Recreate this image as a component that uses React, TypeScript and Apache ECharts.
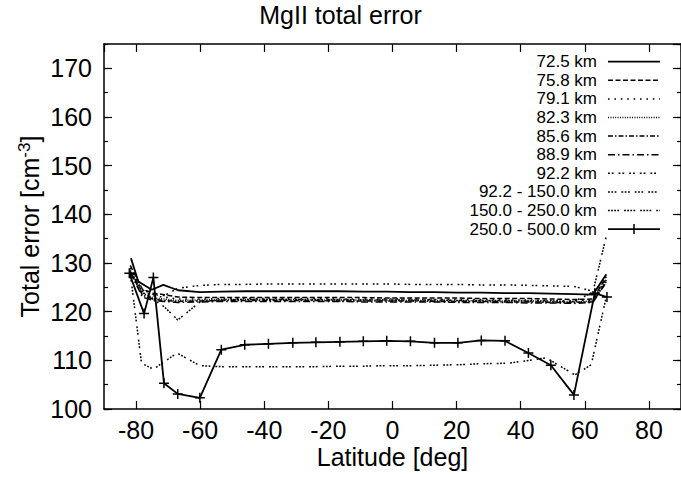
import React, { useEffect, useRef } from "react";
import * as echarts from "echarts";

// ---- data ----
const seriesNames = [
  "72.5 km",
  "75.8 km",
  "79.1 km",
  "82.3 km",
  "85.6 km",
  "88.9 km",
  "92.2 km",
  "92.2 - 150.0 km",
  "150.0 - 250.0 km",
  "250.0 - 500.0 km",
];

const lat725 = [-81.6, -79.3, -75.1, -71.5, -66.9, -60.0, -53.4, -46.1, -38.7, -31.3, -24.0, -16.6, -9.2, -1.8, 5.6, 13.0, 20.4, 27.7, 35.1, 42.4, 49.4, 56.6, 62.5, 66.7];
const val725 = [131.0, 126.2, 124.5, 125.5, 124.4, 124.0, 124.1, 124.2, 124.2, 124.2, 124.2, 124.2, 124.1, 124.1, 124.0, 124.0, 123.9, 123.9, 123.8, 123.8, 123.7, 123.6, 123.5, 127.7];

const latBulk = [-81.8, -78.0, -74.6, -71.2, -67.0, -60.0, -53.4, -46.1, -38.7, -31.3, -24.0, -16.6, -9.2, -1.8, 5.6, 13.0, 20.4, 27.7, 35.1, 42.4, 49.4, 56.6, 62.5, 66.7];
const val758 = [129.5, 124.6, 123.8, 123.5, 123.0, 122.9, 122.9, 122.9, 122.9, 122.9, 122.9, 122.9, 122.9, 122.8, 122.8, 122.8, 122.8, 122.7, 122.7, 122.7, 122.6, 122.5, 122.6, 127.2];
const val791 = [129.0, 124.2, 123.2, 123.0, 122.6, 122.6, 122.7, 122.7, 122.7, 122.7, 122.7, 122.6, 122.6, 122.6, 122.6, 122.5, 122.5, 122.5, 122.4, 122.4, 122.3, 122.2, 122.4, 126.8];
const val823 = [128.5, 123.8, 122.8, 122.6, 122.3, 122.4, 122.5, 122.5, 122.5, 122.5, 122.4, 122.4, 122.4, 122.4, 122.3, 122.3, 122.3, 122.2, 122.2, 122.2, 122.1, 122.0, 122.2, 126.5];
const val856 = [128.2, 123.4, 122.5, 122.3, 122.1, 122.2, 122.3, 122.3, 122.3, 122.3, 122.3, 122.2, 122.2, 122.2, 122.2, 122.1, 122.1, 122.1, 122.0, 122.0, 121.9, 121.9, 122.0, 126.2];
const val889 = [128.0, 123.0, 122.3, 122.1, 121.9, 122.0, 122.1, 122.1, 122.1, 122.1, 122.1, 122.1, 122.0, 122.0, 122.0, 122.0, 121.9, 121.9, 121.9, 121.8, 121.8, 121.7, 121.9, 126.0];
const val922 = [128.0, 124.5, 123.5, 123.3, 124.8, 125.4, 125.6, 125.6, 125.7, 125.7, 125.7, 125.7, 125.7, 125.7, 125.6, 125.6, 125.6, 125.5, 125.5, 125.4, 125.3, 125.2, 124.2, 126.5];
const val150250 = [128.3, 124.0, 122.5, 121.0, 118.3, 122.0, 122.4, 122.5, 122.5, 122.5, 122.5, 122.5, 122.4, 122.4, 122.4, 122.4, 122.3, 122.3, 122.3, 122.2, 122.2, 122.1, 124.0, 135.5];

const lat922150 = [-81.8, -78.3, -74.6, -67.2, -60.1, -53.4, -46.1, -38.7, -31.3, -24.0, -16.6, -9.2, -1.8, 5.6, 13.0, 20.4, 27.7, 36.2, 48.0, 56.9, 62.0, 66.7];
const val922150 = [127.9, 109.4, 108.2, 111.5, 108.9, 108.7, 108.7, 108.7, 108.7, 108.7, 108.8, 108.8, 108.9, 108.9, 109.0, 109.1, 109.3, 109.4, 110.5, 107.0, 109.1, 123.1];

const lat250500 = [-82.1, -77.5, -74.6, -71.3, -67.0, -60.1, -53.4, -46.1, -38.7, -31.1, -23.9, -16.4, -9.1, -1.8, 5.6, 13.1, 20.4, 27.7, 35.1, 42.4, 49.4, 56.6, 63.1, 66.9];
const val250500 = [127.9, 119.6, 127.0, 105.3, 103.1, 102.3, 112.2, 113.2, 113.4, 113.6, 113.7, 113.8, 113.9, 114.0, 113.9, 113.6, 113.6, 114.1, 114.0, 111.5, 109.0, 102.9, 123.8, 123.0];

const seriesLats = [lat725, latBulk, latBulk, latBulk, latBulk, latBulk, latBulk, lat922150, latBulk, lat250500];
const seriesVals = [val725, val758, val791, val823, val856, val889, val922, val922150, val150250, val250500];

const xMin = -90;
const xMax = 90;
const yMin = 100;
const yMax = 175;

// ---- styles ----
const FONT = "'Liberation Sans', Arial, Helvetica, sans-serif";
const dashPatterns: (string | number[])[] = [
  "solid",
  [5, 2.5],
  [1.6, 4.8],
  [1, 1.4],
  [5, 2, 1.5, 2],
  [7, 3, 1.5, 3],
  [1.8, 2, 1.8, 5],
  [1.8, 1.5, 1.8, 1.5, 1.8, 5],
  [1.8, 1.3, 1.8, 1.3, 1.8, 1.3, 1.8, 5],
  "solid",
];
const PLUS = "path://M0,5L10,5M5,0L5,10";

export default function App() {
  const ref = useRef<HTMLDivElement>(null);
  useEffect(() => {
    if (!ref.current) return;
    const chart = echarts.init(ref.current, undefined, { renderer: "svg" });

    const series: any[] = seriesNames.map((name, k) => {
      const isPlus = k === seriesNames.length - 1;
      return {
        name,
        type: "line",
        xAxisIndex: 0,
        yAxisIndex: 0,
        data: seriesLats[k].map((x, i) => [x, seriesVals[k][i]]),
        symbol: isPlus ? PLUS : "none",
        symbolSize: 10,
        showSymbol: isPlus,
        itemStyle: isPlus ? { color: "none", borderColor: "#000", borderWidth: 1.5 } : undefined,
        lineStyle: { color: "#000", width: k === 0 || isPlus ? 1.8 : 1.5, type: dashPatterns[k] },
        z: 10 - k,
      };
    });

    // legend drawn as graphic elements (right-aligned text, sample to the right)
    const legendEls: any[] = [];
    const rowY0 = 61.7;
    const rowStep = 18.6;
    seriesNames.forEach((name, k) => {
      const y = rowY0 + rowStep * k;
      legendEls.push({
        type: "text",
        x: 597,
        y,
        style: { text: name, font: `17px ${FONT}`, fill: "#000", textAlign: "right", textVerticalAlign: "middle" },
      });
      const lt = dashPatterns[k];
      legendEls.push({
        type: "line",
        shape: { x1: 608, y1: y, x2: 660, y2: y },
        style: { stroke: "#000", lineWidth: k === 0 || k === 9 ? 1.8 : 1.5, lineDash: Array.isArray(lt) ? lt : null },
      });
      if (k === 9) {
        legendEls.push({ type: "line", shape: { x1: 634, y1: y - 5, x2: 634, y2: y + 5 }, style: { stroke: "#000", lineWidth: 1.5 } });
      }
    });

    const axisLine = { show: true, onZero: false, lineStyle: { color: "#000", width: 1.5 } };
    const noLine = { show: false, onZero: false };
    const tickStyle = { color: "#000", width: 1.2 };

    chart.setOption({
      animation: false,
      backgroundColor: "#fff",
      title: {
        text: "MgII total error",
        left: "center",
        top: 0,
        padding: [2, 0, 0, 106],
        textStyle: { fontFamily: FONT, fontSize: 25, fontWeight: "normal", color: "#000" },
      },
      grid: { left: 104, right: -3, top: 44, bottom: 68, containLabel: false },
      xAxis: [
        {
          type: "value",
          min: xMin,
          max: xMax,
          splitNumber: 9,
          position: "bottom",
          axisLine,
          axisTick: { show: true, inside: true, length: 8, lineStyle: tickStyle },
          axisLabel: { fontFamily: FONT, fontSize: 25, color: "#000", margin: 8, showMinLabel: false, showMaxLabel: false },
          splitLine: { show: false },
          name: "Latitude [deg]",
          nameLocation: "middle",
          nameGap: 35,
          nameMoveOverlap: false,
          nameTextStyle: { fontFamily: FONT, fontSize: 25, color: "#000" },
        },
        {
          type: "value",
          min: xMin,
          max: xMax,
          splitNumber: 9,
          position: "top",
          axisLine,
          axisTick: { show: true, inside: true, length: 8, lineStyle: tickStyle },
          axisLabel: { show: false },
          splitLine: { show: false },
        },
      ],
      yAxis: [
        {
          type: "value",
          min: yMin,
          max: yMax,
          interval: 10,
          position: "left",
          axisLine,
          axisTick: { show: true, inside: true, length: 8, lineStyle: tickStyle },
          axisLabel: { fontFamily: FONT, fontSize: 25, color: "#000", margin: 12, showMaxLabel: false },
          splitLine: { show: false },
          name: "Total error [cm{sup|-3}]",
          nameLocation: "middle",
          nameGap: 61,
          nameMoveOverlap: false,
          nameTextStyle: {
            fontFamily: FONT,
            fontSize: 25,
            color: "#000",
            rich: { sup: { fontFamily: FONT, fontSize: 17, color: "#000", verticalAlign: "top", padding: [0, 0, 10, 0] } },
          },
        },
        {
          type: "value",
          min: yMin,
          max: yMax,
          interval: 5,
          position: "left",
          axisLine: noLine,
          axisTick: { show: true, inside: true, length: 4, lineStyle: tickStyle },
          axisLabel: { show: false },
          splitLine: { show: false },
        },
        {
          type: "value",
          min: yMin,
          max: yMax,
          interval: 10,
          position: "right",
          axisLine,
          axisTick: { show: true, inside: true, length: 8, lineStyle: tickStyle },
          axisLabel: { show: false },
          splitLine: { show: false },
        },
        {
          type: "value",
          min: yMin,
          max: yMax,
          interval: 5,
          position: "right",
          axisLine: noLine,
          axisTick: { show: true, inside: true, length: 4, lineStyle: tickStyle },
          axisLabel: { show: false },
          splitLine: { show: false },
        },
      ],
      series,
      graphic: legendEls,
    });
    return () => chart.dispose();
  }, []);

  return (
    <div
      ref={ref}
      style={{ position: "fixed", left: 0, top: 0, width: 681, height: 477, background: "#fff" }}
    />
  );
}
